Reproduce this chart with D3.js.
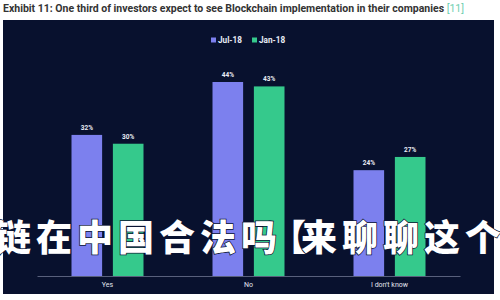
<!DOCTYPE html>
<html>
<head>
<meta charset="utf-8">
<script src="https://cdn.jsdelivr.net/npm/d3@7"></script>
<style>
  body { margin: 0; background: #fff; }
  svg { display: block; }
</style>
</head>
<body>
<svg id="chart" width="500" height="300"></svg>
<script>
const categories = ["Yes", "No", "I don't know"]
const seriesNames = ["Jul-18", "Jan-18"]
const jul18 = [32, 44, 24]
const jan18 = [30, 43, 27]
const seriesColors = ["#7c80ee", "#35c98c"]
const titleText = "Exhibit 11: One third of investors expect to see Blockchain implementation in their companies"
const overlayText = "链在中国合法吗【来聊聊这个"

let svg = d3.select("#chart")

// title
let title = svg.append("text")
  .attr("x", 3)
  .attr("y", 12)
  .style("font-family", "Roboto, sans-serif")
  .style("font-weight", "bold")
  .style("font-size", "10.5px")
  .attr("fill", "#333333")
title.append("tspan").text(titleText + " ")
title.append("tspan").attr("fill", "#6fcfb0").style("font-weight", "normal").text("[11]")

// dark panel
svg.append("rect")
  .attr("x", 3).attr("y", 20)
  .attr("width", 491).attr("height", 274)
  .attr("fill", "#08112e")

// legend
let legend = svg.append("g").attr("transform", "translate(211, 40)")
seriesNames.forEach((name, i) => {
  let g = legend.append("g").attr("transform", "translate(" + (i * 41) + ", 0)")
  g.append("rect").attr("x", 0).attr("y", -2.5).attr("width", 5).attr("height", 5).attr("fill", seriesColors[i])
  g.append("text").attr("x", 7).attr("y", 3)
    .style("font-family", "Roboto, sans-serif").style("font-weight", "bold").style("font-size", "8.2px")
    .attr("fill", "#e8ecf5").text(name)
})

const baseY = 276
let x = d3.scaleBand().domain(categories).range([37, 460]).paddingInner(0).paddingOuter(0)
let xs = d3.scaleBand().domain(seriesNames).range([0, 72]).paddingInner(0.26)
let y = d3.scaleLinear().domain([0, 44]).range([baseY, 82])

// axis
let axis = svg.append("g")
  .attr("transform", "translate(0," + baseY + ")")
  .call(d3.axisBottom(x).tickSize(0).tickPadding(6))
axis.select(".domain").attr("stroke", "#6d7590").attr("stroke-width", 0.8)
axis.selectAll("text")
  .style("font-family", "Roboto, sans-serif").style("font-size", "7px")
  .attr("fill", "#e3e6ee")

const series = [jul18, jan18]
categories.forEach((c, ci) => {
  let gx = x(c) + (x.bandwidth() - 72) / 2
  series.forEach((vals, si) => {
    let bx = gx + xs(seriesNames[si])
    svg.append("rect")
      .attr("x", bx).attr("y", y(vals[ci]))
      .attr("width", xs.bandwidth()).attr("height", baseY - y(vals[ci]))
      .attr("fill", seriesColors[si])
    svg.append("text")
      .attr("x", bx + xs.bandwidth() / 2).attr("y", y(vals[ci]) - 5)
      .attr("text-anchor", "middle")
      .style("font-family", "Roboto, sans-serif").style("font-weight", "bold").style("font-size", "6.5px")
      .attr("fill", "#e8ecf5").text(vals[ci] + "%")
  })
})

// overlay caption, the bracket is narrow in the original brush font,
// so it gets its own text drawn on top
function captionText(str, xPos) {
  return svg.append("text")
    .attr("x", xPos).attr("y", 251)
    .style("font-family", "'Noto Sans CJK SC', sans-serif")
    .style("font-weight", "900")
    .style("font-size", "36px")
    .style("letter-spacing", "5px")
    .attr("fill", "#ffffff")
    .attr("stroke", "#0b1433")
    .attr("stroke-width", 1.5)
    .attr("paint-order", "stroke")
    .text(str)
}
let parts = overlayText.split("【")
let first = captionText(parts[0], -5)
let w = first.node().getComputedTextLength()
captionText(parts[1], -5 + w + 19)
captionText("【", -5 + w - 12)
</script>
</body>
</html>
